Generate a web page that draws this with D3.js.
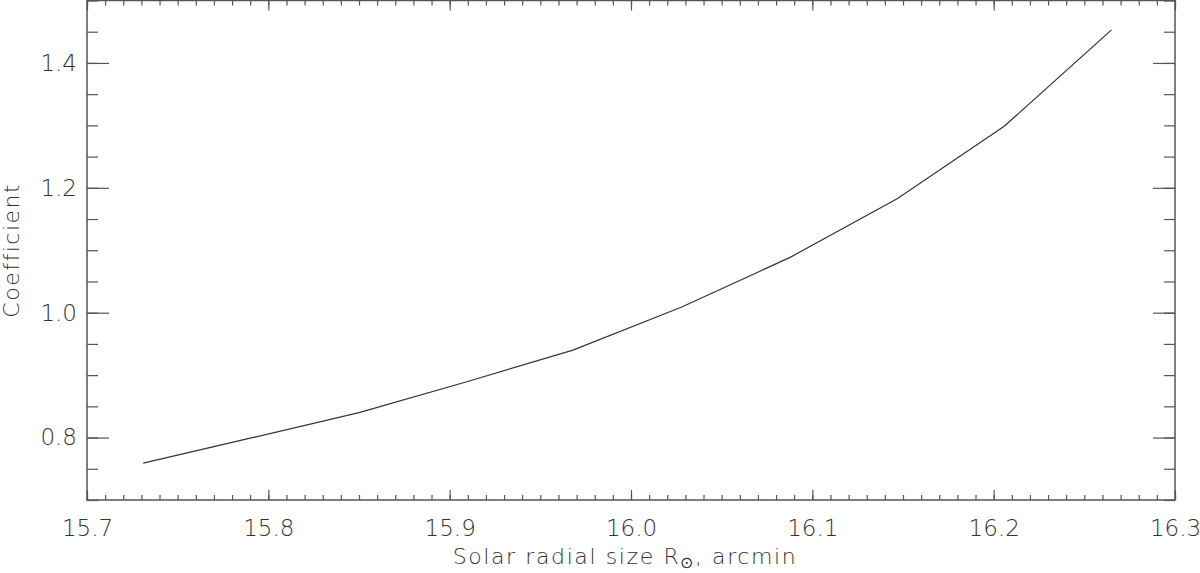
<!DOCTYPE html>
<html><head><meta charset="utf-8">
<script src="https://cdn.jsdelivr.net/npm/d3@7"></script>
<style>
body{margin:0;background:#fff;}
text{font-family:"DejaVu Sans",sans-serif;font-weight:200;fill:#333;}
</style></head>
<body><svg id="c" width="1200" height="573"></svg>
<script>
const xVals=[15.731,15.790,15.850,15.909,15.968,16.028,16.088,16.147,16.206,16.265];
const yVals=[0.759,0.799,0.840,0.889,0.940,1.009,1.089,1.183,1.299,1.453];
const xTicks=[15.7,15.8,15.9,16.0,16.1,16.2,16.3];
const yTicks=[0.8,1.0,1.2,1.4];

const m={l:87,r:1175,t:0.5,b:500};
const svg=d3.select("#c");
const x=d3.scaleLinear().domain([15.7,16.3]).range([m.l,m.r]);
const y=d3.scaleLinear().domain([0.7,1.5]).range([m.b,m.t]);
const axisCol="#555";
const minorX=d3.range(0,61).map(i=>15.7+i*0.01);
const minorY=d3.range(0,17).map(i=>0.7+i*0.05);

function style(g){g.select(".domain").remove();g.selectAll("line").attr("stroke",axisCol).attr("stroke-width",1.2);}
function lab(g){g.select(".domain").remove();g.selectAll("text").attr("font-size",23).attr("fill","#333").attr("font-family","DejaVu Sans").attr("font-weight",200);}
// bottom
svg.append("g").attr("transform",`translate(0,${m.b})`).call(d3.axisTop(x).tickValues(minorX).tickSize(5).tickFormat("")).call(style);
svg.append("g").attr("transform",`translate(0,${m.b})`).call(d3.axisTop(x).tickValues(xTicks).tickSize(10).tickFormat("")).call(style);
svg.append("g").attr("transform",`translate(0,${m.b})`).call(d3.axisBottom(x).tickValues(xTicks).tickSize(0).tickPadding(20).tickFormat(d3.format(".1f"))).call(lab);
// top
svg.append("g").attr("transform",`translate(0,${m.t})`).call(d3.axisBottom(x).tickValues(minorX).tickSize(5).tickFormat("")).call(style);
svg.append("g").attr("transform",`translate(0,${m.t})`).call(d3.axisBottom(x).tickValues(xTicks).tickSize(10).tickFormat("")).call(style);
// left
svg.append("g").attr("transform",`translate(${m.l},0)`).call(d3.axisRight(y).tickValues(minorY).tickSize(11).tickFormat("")).call(style);
svg.append("g").attr("transform",`translate(${m.l},0)`).call(d3.axisRight(y).tickValues(yTicks).tickSize(22).tickFormat("")).call(style);
svg.append("g").attr("transform",`translate(${m.l},0)`).call(d3.axisLeft(y).tickValues(yTicks).tickSize(0).tickPadding(10).tickFormat(d3.format(".1f"))).call(lab);
// right
svg.append("g").attr("transform",`translate(${m.r},0)`).call(d3.axisLeft(y).tickValues(minorY).tickSize(11).tickFormat("")).call(style);
svg.append("g").attr("transform",`translate(${m.r},0)`).call(d3.axisLeft(y).tickValues(yTicks).tickSize(22).tickFormat("")).call(style);
// frame
svg.append("rect").attr("x",m.l).attr("y",m.t).attr("width",m.r-m.l).attr("height",m.b-m.t).attr("fill","none").attr("stroke",axisCol).attr("stroke-width",1.5);

// line
const pts=xVals.map((v,i)=>[v,yVals[i]]);
svg.append("path").datum(pts).attr("fill","none").attr("stroke","#333").attr("stroke-width",1.2)
 .attr("d",d3.line().x(d=>x(d[0])).y(d=>y(d[1])));

// titles
const xt=svg.append("text").attr("x",(m.l+m.r)/2-6).attr("y",564).attr("text-anchor","middle").attr("font-size",22).attr("letter-spacing",1.6);
xt.append("tspan").text("Solar radial size R");
xt.append("tspan").attr("dy",4).attr("font-size",16).text("⊙");
xt.append("tspan").attr("dy",-4).text(", arcmin");
svg.append("text").attr("transform",`translate(19,${(m.t+m.b)/2}) rotate(-90)`).attr("text-anchor","middle").attr("font-size",22).attr("letter-spacing",1.5).text("Coefficient");
</script></body></html>
